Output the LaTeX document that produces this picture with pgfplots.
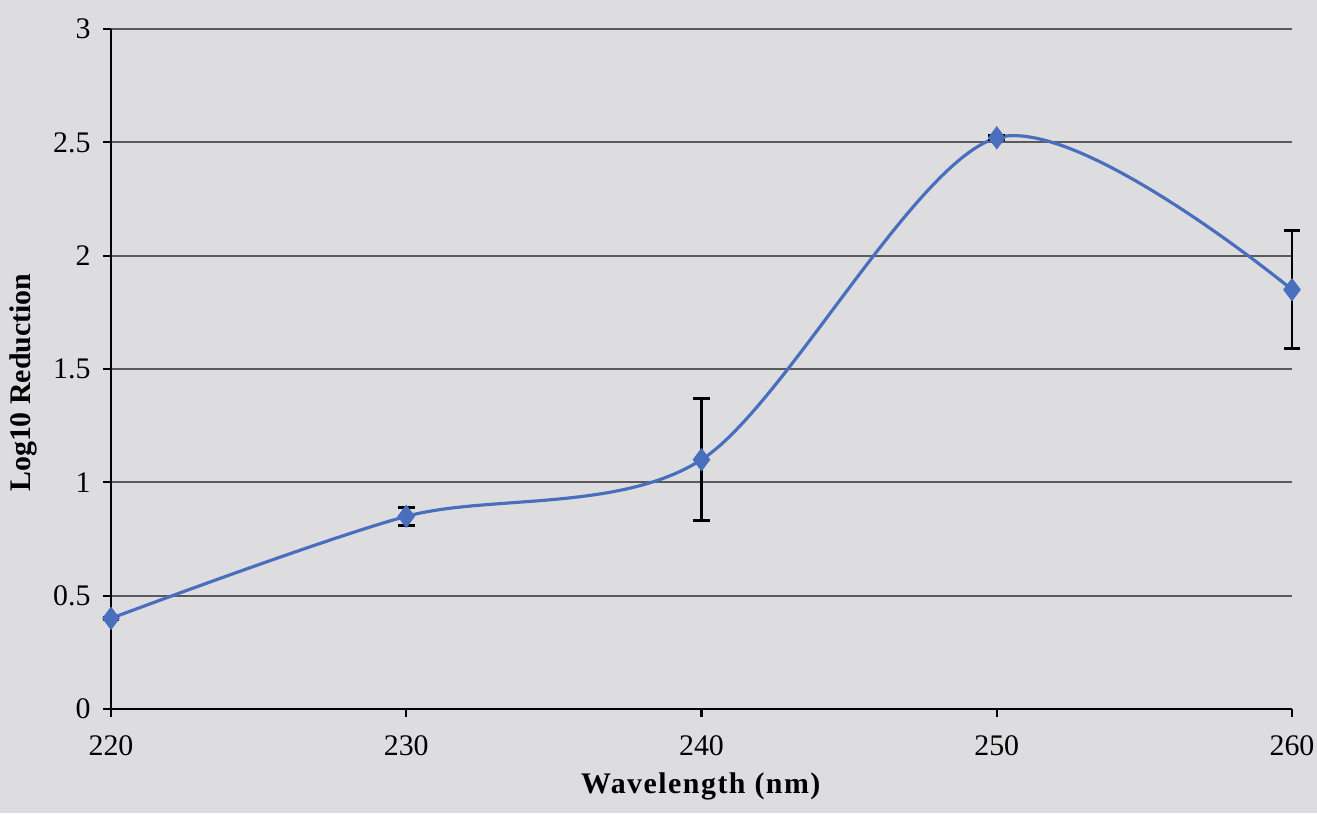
\documentclass[border=0pt]{standalone}
\usepackage{fontspec}
\setmainfont{Liberation Serif}
\usepackage{pgfplots}
\pgfplotsset{compat=1.18}
\usetikzlibrary{backgrounds}
\definecolor{paper}{RGB}{221,221,224}
\definecolor{lineblue}{RGB}{74,110,190}
\definecolor{gridgray}{RGB}{90,90,90}

\begin{document}
\begin{tikzpicture}
\begin{axis}[
    scale only axis,
    width=11.81cm, height=6.80cm,
    xmin=220, xmax=260, ymin=0, ymax=3,
    xtick={220,230,240,250,260},
    ytick={0,0.5,1,1.5,2,2.5,3},
    axis lines*=left,
    axis line style={black, line width=0.6pt, -},
    ymajorgrids=true,
    grid style={gridgray, line width=0.6pt},
    tick style={black, line width=0.6pt},
    tick align=outside,
    major tick length=0.8mm,
    font=\fontsize{8.5}{10}\selectfont,
    /pgf/number format/assume math mode=true,
    yticklabel style={/pgf/number format/fixed},
    xticklabel style={/pgf/number format/1000 sep={}, yshift=-0.6mm},
    xlabel={\textbf{\addfontfeature{LetterSpace=5}Wavelength (nm)}},
    ylabel={\textbf{Log10 Reduction}},
    xlabel style={font=\fontsize{8.5}{10}\selectfont,
        at={([yshift=-7.7mm]axis description cs:0.5,0)}, anchor=center},
    ylabel style={font=\fontsize{8.5}{10}\selectfont,
        at={([xshift=-8.8mm]axis description cs:0,0.48)}, anchor=center},
    clip=false,
]
\coordinate (ll) at (rel axis cs:0,0);
\coordinate (ur) at (rel axis cs:1,1);
\addplot[lineblue, line width=0.9pt, smooth, mark=diamond*, mark size=2.6pt,
    mark options={fill=lineblue, draw=lineblue},
    error bars/.cd, y dir=both, y explicit,
    error bar style={black, line width=0.8pt},
    error mark options={black, line width=0.8pt, mark size=2.4pt, rotate=90}]
  coordinates {
    (220,0.40) +- (0,0.005)
    (230,0.85) +- (0,0.04)
    (240,1.10) +- (0,0.27)
    (250,2.52) +- (0,0.01)
    (260,1.85) +- (0,0.26)
  };
\end{axis}
\pgfresetboundingbox
\begin{scope}[on background layer]
\fill[paper] ([shift={(-1.11cm,-1.04cm)}]ll) rectangle ([shift={(0.25cm,0.29cm)}]ur);
\end{scope}
\useasboundingbox ([shift={(-1.11cm,-1.04cm)}]ll) rectangle ([shift={(0.25cm,0.29cm)}]ur);
\end{tikzpicture}
\end{document}
